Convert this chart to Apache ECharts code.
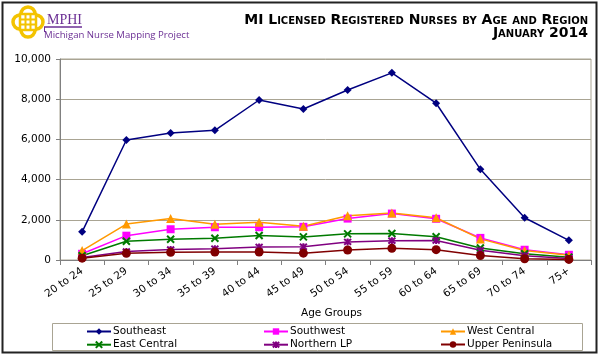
<!DOCTYPE html>
<html>
<head>
<meta charset="utf-8">
<script src="https://cdn.jsdelivr.net/npm/echarts@6/dist/echarts.min.js"></script>
<style>html,body{margin:0;padding:0;background:#fff}#c{width:600px;height:360px}</style>
</head>
<body>
<div id="c"></div>
<script>
const categories = ['20 to 24','25 to 29','30 to 34','35 to 39','40 to 44','45 to 49','50 to 54','55 to 59','60 to 64','65 to 69','70 to 74','75+'];
const southeast = [1400, 5970, 6320, 6450, 7960, 7510, 8460, 9310, 7800, 4510, 2100, 980];
const southwest = [310, 1210, 1530, 1630, 1630, 1650, 2060, 2310, 2050, 1100, 510, 260];
const westCentral = [470, 1790, 2070, 1780, 1880, 1680, 2200, 2340, 2100, 1050, 470, 240];
const eastCentral = [210, 930, 1030, 1080, 1220, 1150, 1300, 1320, 1160, 600, 310, 140];
const northernLP = [130, 420, 520, 560, 650, 660, 900, 960, 970, 480, 210, 80];
const upperPeninsula = [90, 330, 380, 400, 400, 340, 500, 580, 515, 220, 60, 30];
const yTicks = [0, 2000, 4000, 6000, 8000, 10000];
const seriesNames = ['Southeast','Southwest','West Central','East Central','Northern LP','Upper Peninsula'];

const FONT = '"DejaVu Sans", Verdana, sans-serif';
const xPath = 'path://M0,0L10,10M10,0L0,10';
const starPath = 'path://M0,0L10,10M10,0L0,10M5,-1L5,11';

function mk(name, data, color, symbol, size, stroke) {
  return {
    name, type: 'line', data,
    symbol, symbolSize: size,
    lineStyle: { color, width: 1.5 },
    itemStyle: stroke ? { color: 'none', borderColor: color, borderWidth: 2 } : { color, borderColor: color, borderWidth: 0 },
    emphasis: { disabled: true },
    animation: false
  };
}

const legendPos = [[86, 326], [263, 326], [440, 326], [86, 339], [263, 339], [440, 339]];
const legends = seriesNames.map((n, i) => ({
  left: legendPos[i][0], top: legendPos[i][1], orient: 'horizontal',
  itemWidth: 24, itemHeight: 8, itemGap: 0, padding: 0,
  textStyle: { fontFamily: FONT, fontSize: 10.5, color: '#000', padding: [0, 0, 0, -3] },
  data: [n]
}));

const chart = echarts.init(document.getElementById('c'), null, { renderer: 'canvas' });
chart.setOption({
  backgroundColor: '#fff',
  animation: false,
  grid: { left: 60, top: 59, right: 9, bottom: 100, show: true, borderColor: '#a9a493', borderWidth: 1, backgroundColor: 'transparent' },
  xAxis: {
    type: 'category', data: categories, boundaryGap: true,
    axisLine: { lineStyle: { color: '#808080', width: 1 } },
    axisTick: { show: true, length: 5, lineStyle: { color: '#808080' }, alignWithLabel: false },
    axisLabel: { rotate: 35, fontFamily: FONT, fontSize: 10.5, color: '#000', margin: 10, interval: 0 },
    name: 'Age Groups', nameLocation: 'middle', nameGap: 48,
    nameTextStyle: { fontFamily: FONT, fontSize: 10.5, color: '#000', padding: [0,0,0,12] }
  },
  yAxis: {
    type: 'value', min: 0, max: 10000, interval: 2000,
    axisLine: { show: true, lineStyle: { color: '#808080', width: 1 } },
    axisTick: { show: true, length: 4, lineStyle: { color: '#808080' } },
    splitLine: { lineStyle: { color: '#a9a493', width: 1 } },
    axisLabel: { fontFamily: FONT, fontSize: 10.5, color: '#000', margin: 9,
      formatter: v => yTicks.includes(v) ? v.toLocaleString('en-US') : '' }
  },
  legend: legends,
  series: [
    mk(seriesNames[0], southeast, '#000080', 'diamond', 8, false),
    mk(seriesNames[1], southwest, '#ff00ff', 'rect', 8, false),
    mk(seriesNames[2], westCentral, '#ff9900', 'triangle', 9, false),
    mk(seriesNames[3], eastCentral, '#007a00', xPath, 7, true),
    mk(seriesNames[4], northernLP, '#800080', starPath, 7, true),
    mk(seriesNames[5], upperPeninsula, '#800000', 'circle', 9, false)
  ],
  graphic: [
    { type: 'rect', shape: { x: 2.5, y: 2.5, width: 594, height: 350 }, style: { fill: 'none', stroke: '#222', lineWidth: 2 }, silent: true },
    { type: 'rect', shape: { x: 52.5, y: 323.5, width: 530, height: 27 }, style: { fill: 'none', stroke: '#a9a493', lineWidth: 1 }, silent: true },
    // logo knot
    { type: 'group', x: 12, y: 7, silent: true, children: [
      { type: 'circle', shape: { cx: 8, cy: 15, r: 7 }, style: { fill: 'none', stroke: '#f3c300', lineWidth: 3.5 } },
      { type: 'circle', shape: { cx: 24, cy: 15, r: 7 }, style: { fill: 'none', stroke: '#f3c300', lineWidth: 3.5 } },
      { type: 'circle', shape: { cx: 16, cy: 7, r: 7 }, style: { fill: 'none', stroke: '#f3c300', lineWidth: 3.5 } },
      { type: 'circle', shape: { cx: 16, cy: 23, r: 7 }, style: { fill: 'none', stroke: '#f3c300', lineWidth: 3.5 } },
      { type: 'rect', shape: { x: 8, y: 7, width: 16, height: 16 }, style: { fill: '#fff', stroke: '#f3c300', lineWidth: 2.5 } },
      { type: 'line', shape: { x1: 13.5, y1: 7, x2: 13.5, y2: 23 }, style: { stroke: '#f3c300', lineWidth: 2 } },
      { type: 'line', shape: { x1: 18.5, y1: 7, x2: 18.5, y2: 23 }, style: { stroke: '#f3c300', lineWidth: 2 } },
      { type: 'line', shape: { x1: 8, y1: 12.5, x2: 24, y2: 12.5 }, style: { stroke: '#f3c300', lineWidth: 2 } },
      { type: 'line', shape: { x1: 8, y1: 17.5, x2: 24, y2: 17.5 }, style: { stroke: '#f3c300', lineWidth: 2 } }
    ]},
    { type: 'text', x: 47, y: 13, silent: true, style: { text: 'MPHI', font: '14px "Liberation Serif", serif', fill: '#6b2f94' } },
    { type: 'line', shape: { x1: 44, y1: 27, x2: 82, y2: 27 }, style: { stroke: '#6b2f94', lineWidth: 1.5 }, silent: true },
    { type: 'line', shape: { x1: 44.5, y1: 27, x2: 44.5, y2: 32 }, style: { stroke: '#6b2f94', lineWidth: 1 }, silent: true },
    { type: 'text', x: 44, y: 30, silent: true, style: { text: 'Michigan Nurse Mapping Project', font: '9.6px "Open Sans", sans-serif', fill: '#6b2f94' } },
    { type: 'text', x: 588, y: 13, silent: true, style: { text: 'MI Licensed Registered Nurses by Age and Region', font: 'small-caps bold 14px "DejaVu Sans", Verdana, sans-serif', fill: '#000', align: 'right' } },
    { type: 'text', x: 588, y: 26, silent: true, style: { text: 'January 2014', font: 'small-caps bold 14px "DejaVu Sans", Verdana, sans-serif', fill: '#000', align: 'right' } }
  ]
});
</script>
</body>
</html>
